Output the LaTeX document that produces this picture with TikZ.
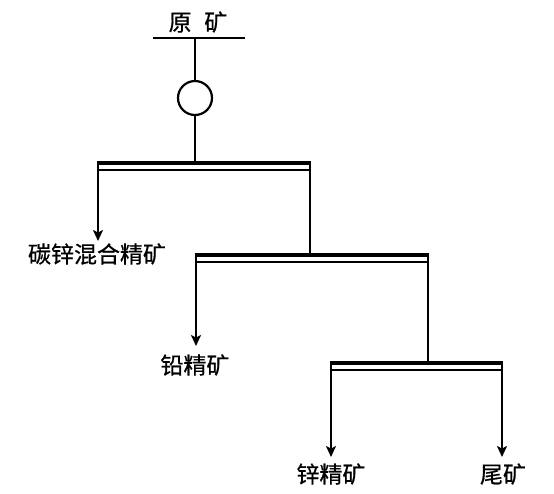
\documentclass[tikz,border=0pt]{standalone}
\usepackage{fontspec}
\newfontfamily\cjk[FakeBold=0.6]{Noto Sans CJK SC}
\usetikzlibrary{arrows.meta}

\tikzset{
  lbl/.style={font=\cjk\fontsize{11.5}{13}\selectfont,inner sep=0pt},
  bar/.style={line width=2.2pt},
  tip/.style={-{Stealth[length=5.5pt,width=5pt,inset=1.3pt]}}
}

\begin{document}
\begin{tikzpicture}[x=0.5pt,y=-0.5pt,line width=1.1pt]
\useasboundingbox (0,0) rectangle (554,494);

% feed
\node[lbl] (ore) at (198,22) {原\hspace{0.55em}矿};
\coordinate (F1) at (153,38);
\coordinate (F2) at (245,38);
\coordinate (F3) at (195,38);
\draw (F1) -- (F2);
\node[draw,circle,minimum size=17pt,inner sep=0pt] (mill) at (195,98) {};
\draw (F3) -- (mill.north);

% 1
\coordinate (A0) at (195,163);
\coordinate (A1) at (98,163);
\coordinate (A2) at (310,163);
\coordinate (A3) at (98,241);
\draw (mill.south) -- (A0);
\draw[bar] (97,163) -- (311,163);
\draw (98,170) -- (310,170);
\draw[tip] (A1) -- (A3);
\node[lbl] (mix) at (97,254) {碳锌混合精矿};

% 2
\coordinate (B0) at (310,255);
\coordinate (B1) at (196,255);
\coordinate (B2) at (428,255);
\coordinate (B3) at (196,346);
\draw (A2) -- (B0);
\draw[bar] (195,255) -- (429,255);
\draw (196,262) -- (428,262);
\draw[tip] (B1) -- (B3);
\node[lbl] (pb) at (195,365) {铅精矿};

% 3
\coordinate (C0) at (428,363);
\coordinate (C1) at (331,363);
\coordinate (C2) at (502,363);
\coordinate (C3) at (331,457);
\coordinate (C4) at (502,457);
\draw (B2) -- (C0);
\draw[bar] (330,363) -- (503,363);
\draw (331,370) -- (502,370);
\draw[tip] (C1) -- (C3);
\draw[tip] (C2) -- (C4);
\node[lbl] (zn) at (331,474) {锌精矿};
\node[lbl] (tail) at (503,474) {尾矿};

\end{tikzpicture}
\end{document}
